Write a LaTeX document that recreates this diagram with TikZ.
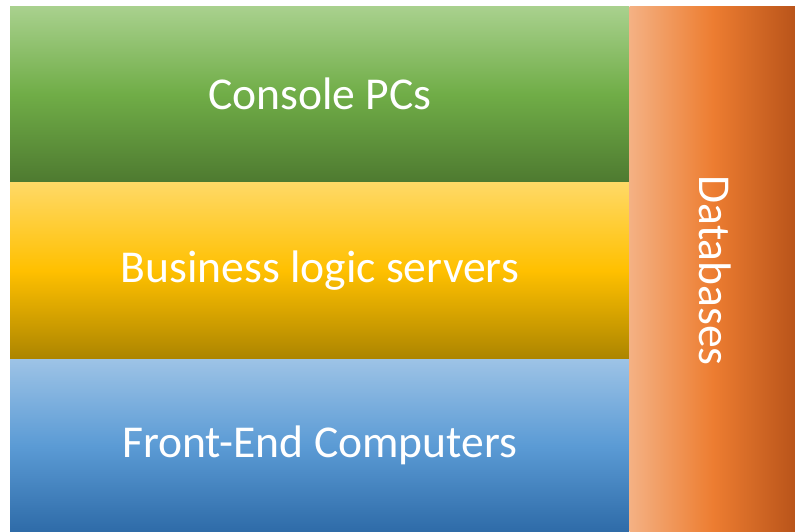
\documentclass[tikz,border=0pt]{standalone}
\usepackage{fontspec}
\setmainfont{Carlito}
\usetikzlibrary{positioning}
\definecolor{greentop}{HTML}{A9D18E}
\definecolor{greenmid}{HTML}{70AD47}
\definecolor{greenbot}{HTML}{4E7A30}
\definecolor{goldtop}{HTML}{FFD966}
\definecolor{goldmid}{HTML}{FFC000}
\definecolor{goldbot}{HTML}{AC8500}
\definecolor{bluetop}{HTML}{9DC3E6}
\definecolor{bluemid}{HTML}{5B9BD5}
\definecolor{bluebot}{HTML}{2E6BA8}
\definecolor{orangeleft}{HTML}{F4B183}
\definecolor{orangemid}{HTML}{ED7D31}
\definecolor{orangeright}{HTML}{B9541A}

\begin{document}
\begin{tikzpicture}[x=1pt,y=-1pt,
  layer/.style={inner sep=0pt,minimum width=619pt,minimum height=176pt,text=white,
    font=\fontsize{45.6}{54}\selectfont}]
  \useasboundingbox (0,0) rectangle (795,531);
  \node[layer,top color=greentop,bottom color=greenbot,middle color=greenmid,anchor=north west] (console) at (10,6) {Console PCs};
  \node[layer,top color=goldtop,bottom color=goldbot,middle color=goldmid,below=0pt of console] (business) {Business logic servers};
  \node[layer,top color=bluetop,bottom color=bluebot,middle color=bluemid,minimum height=173pt,below=0pt of business] (frontend) {Front-End Computers};
  % database column on the right
  \node[inner sep=0pt,minimum width=166pt,minimum height=525pt,left color=orangeleft,right color=orangeright,middle color=orangemid,anchor=north west] (databases) at (console.north east) {};
  \node[rotate=-90,text=white,font=\fontsize{45.6}{54}\selectfont] (dblabel) at ([xshift=3pt,yshift=-2pt]databases.center) {Databases};
\end{tikzpicture}
\end{document}
